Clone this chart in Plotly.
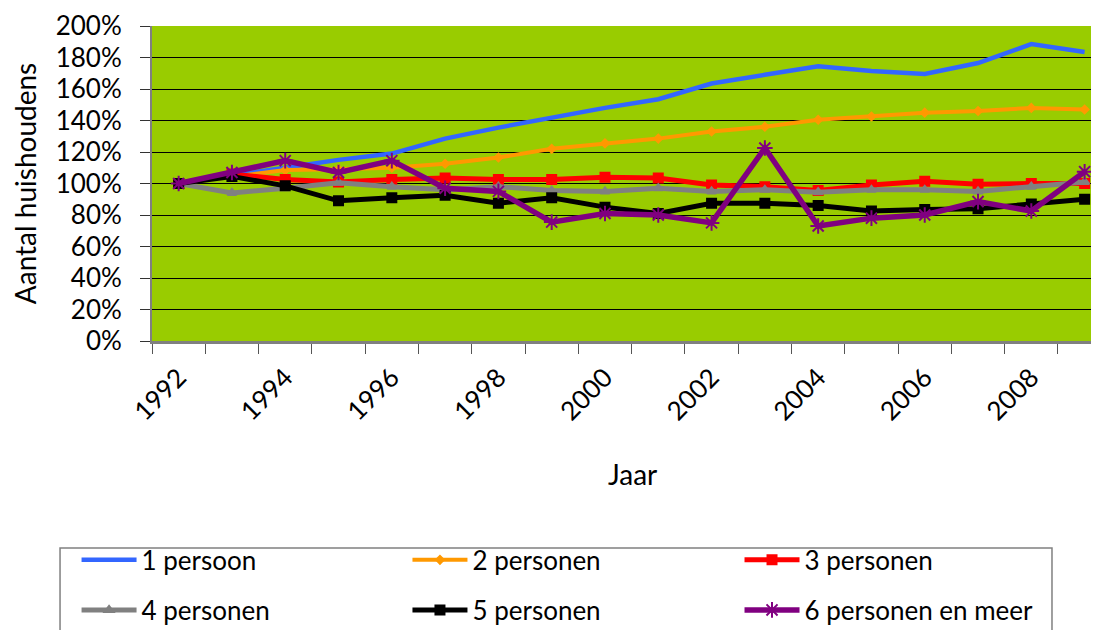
import plotly.graph_objects as go

#data (index 1992 = 100%)
years = list(range(1992, 2010))
tick_years = [1992, 1994, 1996, 1998, 2000, 2002, 2004, 2006, 2008]

p1 = [100, 105, 110.5, 115, 119, 128.5, 135.5, 142, 148, 153.5, 163.5, 169, 174.5, 171.5, 169.5, 176.5, 188.5, 183.5]
p2 = [100, 104, 108.5, 109, 110, 112.5, 116.5, 122, 125.5, 128.5, 133, 136, 140.5, 142.5, 145, 146, 148, 147]
p3 = [100, 106, 102.5, 101, 102.5, 103.5, 102.5, 102.5, 104, 103.5, 99, 98, 95.5, 99, 101.5, 99.5, 100, 100]
p4 = [100, 94, 97, 100.5, 98, 96, 98, 95.5, 95, 97, 95, 96, 94.5, 96, 96, 95, 98, 101]
p5 = [100, 104.5, 98.5, 89, 91, 92.5, 87.5, 91, 85, 81, 87.5, 87.5, 86, 82.5, 83.5, 84, 87, 90]
p6 = [100, 107, 114.5, 107, 114.5, 97, 95, 75.5, 81, 80, 75, 122.5, 73, 78, 80, 88.5, 82.5, 107.5]

#name, values, colour, marker symbol, marker size, line width
series = [
    ('1 persoon', p1, '#3366FF', None, 0, 4.5),
    ('2 personen', p2, '#FF9900', 'diamond', 6, 4),
    ('3 personen', p3, '#FF0000', 'square', 9, 5),
    ('4 personen', p4, '#808080', 'triangle-up', 8, 5),
    ('5 personen', p5, '#000000', 'square', 9, 5),
    ('6 personen en meer', p6, '#800080', 'asterisk-open', 13, 5.5),
]

font_name = 'Lato, Calibri, Arial'

#one legend per entry so the 3x2 grid can be placed like the original
legend_x = [-0.079, 0.2675, 0.6152]
legend_y = [-0.695, -0.854]

fig = go.Figure()
layout_legends = {}
for i, (name, vals, color, symbol, size, width) in enumerate(series):
    if symbol is None:
        mode = 'lines'
        marker = None
    else:
        mode = 'lines+markers'
        marker = dict(symbol=symbol, size=size, color=color, line=dict(color=color, width=2))
    legend_name = 'legend' if i == 0 else 'legend' + str(i + 1)
    fig.add_trace(go.Scatter(x=years, y=vals, name=name, mode=mode,
                             line=dict(color=color, width=width),
                             marker=marker, legend=legend_name))
    layout_legends[legend_name] = dict(x=legend_x[i % 3], y=legend_y[i // 3], xanchor='left', yanchor='middle',
                                       font=dict(size=26), bgcolor='rgba(0,0,0,0)', itemwidth=55)

fig.update_layout(
    width=1099, height=630,
    margin=dict(l=144, r=0, t=18, b=297, autoexpand=False),
    paper_bgcolor='white',
    plot_bgcolor='#99CC00',
    font=dict(family=font_name, size=26, color='black'),
    showlegend=True,
    **layout_legends
)

fig.update_xaxes(range=[1991.5, 2009.42], tickvals=tick_years, ticktext=[str(y) for y in tick_years],
                 tickangle=-45, ticks='outside', ticklen=8, tickcolor='rgba(0,0,0,0)',
                 showgrid=False, zeroline=False,
                 showline=True, linecolor='#808080', linewidth=3,
                 tickfont=dict(size=26),
                 minor=dict(ticks='outside', tick0=1991.5, dtick=1, ticklen=10, tickcolor='#555555', showgrid=False))

fig.update_yaxes(range=[0, 200], dtick=20, ticksuffix='%', showgrid=True, gridcolor='black', gridwidth=1,
                 zeroline=False, showline=True, linecolor='#808080', linewidth=2,
                 ticks='outside', ticklen=10, tickcolor='#333333', tickfont=dict(size=26),
                 ticklabelstandoff=13,
                 title=dict(text='Aantal huishoudens', font=dict(size=28), standoff=18))

#x title
fig.add_annotation(text='Jaar', x=0.503, y=-0.482, xref='paper', yref='paper', showarrow=False,
                   font=dict(size=28))

#legend box
fig.add_shape(type='rect', xref='paper', yref='paper', x0=-0.0963, x1=0.9424, y0=-0.657, y1=-1.0,
              line=dict(color='#808080', width=1.5), fillcolor='rgba(0,0,0,0)')

fig.write_html('out.html')
